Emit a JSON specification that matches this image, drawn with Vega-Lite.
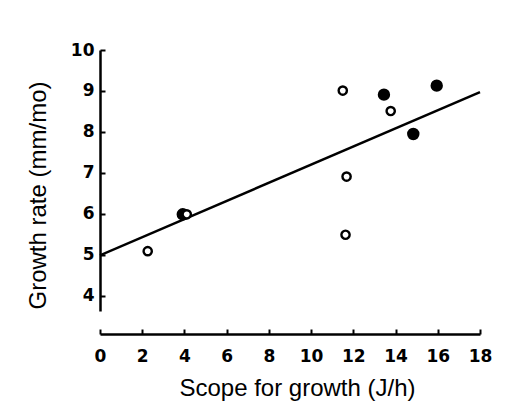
{
  "$schema": "https://vega.github.io/schema/vega-lite/v6.json",
  "width": 380,
  "height": 261,
  "autosize": {"type": "none"},
  "padding": {"left": 100, "top": 50, "right": 34, "bottom": 109},
  "background": "white",
  "config": {
    "view": {"stroke": null},
    "font": "Liberation Sans",
    "axis": {
      "grid": false,
      "labelFlush": false,
      "labelOverlap": false,
      "domainColor": "black",
      "domainWidth": 2.5,
      "tickColor": "black",
      "tickWidth": 2,
      "tickSize": -5,
      "labelFont": "DejaVu Sans",
      "labelFontWeight": "bold",
      "labelFontSize": 17,
      "labelColor": "black",
      "titleFont": "Liberation Sans",
      "titleFontWeight": "normal",
      "titleFontSize": 24,
      "titleColor": "black"
    }
  },
  "datasets": {
    "points": [
      {"scope": 2.26, "growth": 5.09, "group": "open"},
      {"scope": 3.92, "growth": 5.99, "group": "filled"},
      {"scope": 4.11, "growth": 5.99, "group": "open"},
      {"scope": 11.5, "growth": 9.01, "group": "open"},
      {"scope": 11.68, "growth": 6.91, "group": "open"},
      {"scope": 11.63, "growth": 5.49, "group": "open"},
      {"scope": 13.45, "growth": 8.91, "group": "filled"},
      {"scope": 13.77, "growth": 8.51, "group": "open"},
      {"scope": 14.84, "growth": 7.95, "group": "filled"},
      {"scope": 15.95, "growth": 9.13, "group": "filled"}
    ],
    "fit": [
      {"scope": 0, "growth": 4.99},
      {"scope": 18, "growth": 8.97}
    ]
  },
  "layer": [
    {
      "data": {"name": "fit"},
      "mark": {"type": "line", "color": "black", "strokeWidth": 2.5, "clip": false},
      "encoding": {
        "x": {
          "field": "scope", "type": "quantitative",
          "scale": {"domain": [0, 18], "nice": false, "zero": false},
          "axis": {
            "title": "Scope for growth (J/h)",
            "values": [0, 2, 4, 6, 8, 10, 12, 14, 16, 18],
            "offset": 23,
            "labelPadding": 19,
            "titlePadding": 12,
            "titleX": 197
          }
        },
        "y": {
          "field": "growth", "type": "quantitative",
          "scale": {"domain": [3.63, 10], "nice": false, "zero": false},
          "axis": {
            "title": "Growth rate (mm/mo)",
            "values": [4, 5, 6, 7, 8, 9, 10],
            "labelPadding": 11,
            "titlePadding": 20,
            "titleY": 145
          }
        }
      }
    },
    {
      "data": {"name": "points"},
      "mark": {"type": "point", "shape": "circle", "stroke": "black", "strokeWidth": 2.4, "opacity": 1, "clip": false},
      "encoding": {
        "x": {"field": "scope", "type": "quantitative"},
        "y": {"field": "growth", "type": "quantitative"},
        "fill": {
          "field": "group", "type": "nominal",
          "scale": {"domain": ["open", "filled"], "range": ["white", "black"]},
          "legend": null
        },
        "size": {
          "field": "group", "type": "nominal",
          "scale": {"domain": ["open", "filled"], "range": [68, 100]},
          "legend": null
        }
      }
    }
  ]
}
